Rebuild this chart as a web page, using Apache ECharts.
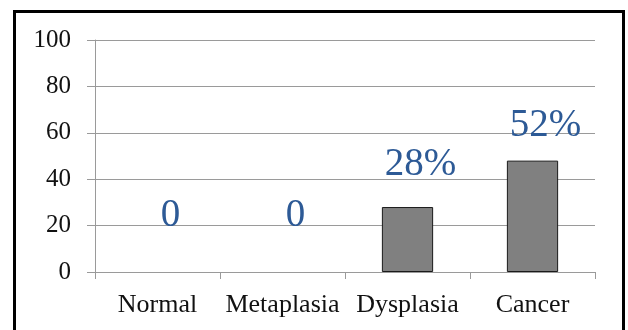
<!DOCTYPE html>
<html>
<head>
<meta charset="utf-8">
<script src="https://cdn.jsdelivr.net/npm/echarts@6/dist/echarts.min.js"></script>
<style>
html,body{margin:0;padding:0;background:#fff;}
#c{width:628px;height:330px;}
</style>
</head>
<body>
<div id="c"></div>
<script>
const categories = ['Normal', 'Metaplasia', 'Dysplasia', 'Cancer'];
const values = [0, 0, 28, 48];
const labelTexts = ['0', '0', '28%', '52%'];
const yTicks = [0, 20, 40, 60, 80, 100];

const labelDistance = [37, 37, 23, 15];
const chart = echarts.init(document.getElementById('c'), null, {renderer: 'canvas'});
const serif = '"Liberation Serif", "Times New Roman", serif';
chart.setOption({
  animation: false,
  backgroundColor: '#ffffff',
  grid: {left: 95, right: 33, top: 40, bottom: 58, containLabel: false},
  xAxis: {
    type: 'category',
    data: categories,
    axisLine: {show: true, lineStyle: {color: '#9a9a9a', width: 1}},
    axisTick: {show: true, length: 7, inside: false, alignWithLabel: false, interval: 0, lineStyle: {color: '#9a9a9a'}},
    axisLabel: {fontFamily: serif, fontSize: 26, color: '#111', margin: 20, interval: 0}
  },
  yAxis: {
    type: 'value',
    min: yTicks[0], max: yTicks[yTicks.length - 1], interval: 20,
    axisLine: {show: true, lineStyle: {color: '#9a9a9a', width: 1}},
    axisTick: {show: true, length: 8, lineStyle: {color: '#9a9a9a'}},
    splitLine: {show: true, lineStyle: {color: '#9a9a9a', width: 1}},
    axisLabel: {fontFamily: serif, fontSize: 25, color: '#111', margin: 24}
  },
  series: [{
    type: 'bar',
    barWidth: '41%',
    data: values.map((v, i) => ({
      value: v,
      itemStyle: v === 0 ? {borderWidth: 0, color: 'rgba(0,0,0,0)'} : undefined,
      label: {
        show: true,
        position: 'top',
        distance: labelDistance[i],
        offset: [13, 0],
        formatter: labelTexts[i],
        fontFamily: serif,
        fontSize: 39,
        color: '#2d5a96'
      }
    })),
    itemStyle: {color: '#808080', borderColor: '#1a1a1a', borderWidth: 1}
  }],
  graphic: [{
    type: 'rect',
    shape: {x: 14.5, y: 11.5, width: 609, height: 340},
    style: {fill: 'none', stroke: '#000', lineWidth: 3},
    silent: true
  }]
});
</script>
</body>
</html>
